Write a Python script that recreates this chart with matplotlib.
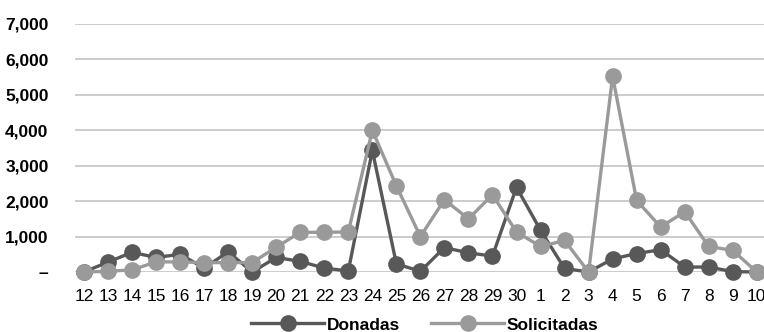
import numpy as np
import matplotlib
matplotlib.use("Agg")
import matplotlib.pyplot as plt

plt.rcParams['font.family'] = ['Liberation Sans', 'DejaVu Sans']

# dias (12 a 30, luego 1 a 10)
dias = ['12', '13', '14', '15', '16', '17', '18', '19', '20', '21', '22', '23', '24', '25',
        '26', '27', '28', '29', '30', '1', '2', '3', '4', '5', '6', '7', '8', '9', '10']
donadas = [0, 280, 555, 410, 500, 110, 570, 0, 410, 300, 110, 30, 3430, 230,
           20, 690, 540, 450, 2390, 1180, 100, 0, 370, 520, 630, 140, 140, 10, 0]
solicitadas = [0, 20, 60, 285, 285, 265, 265, 265, 700, 1120, 1120, 1130, 4000, 2430,
               1000, 2040, 1500, 2180, 1130, 720, 890, 0, 5520, 2020, 1270, 1700, 720, 610, 0]
yticks = [0, 1000, 2000, 3000, 4000, 5000, 6000, 7000]
ylabels = ['–', '1,000', '2,000', '3,000', '4,000', '5,000', '6,000', '7,000']

fig = plt.figure(figsize=(7.64, 3.32), dpi=100)
ax = fig.add_axes([75 / 764, 1 - 272 / 332, 1 - 75 / 764, (272 - 24) / 332])

x = np.arange(len(dias))
ax.plot(x, donadas, color='#585858', lw=2.4, marker='o', ms=11, clip_on=False,
        zorder=3, label='Donadas')
ax.plot(x, solicitadas, color='#9a9a9a', lw=2.4, marker='o', ms=11, clip_on=False,
        zorder=4, label='Solicitadas')

ax.set_ylim(0, 7000)
ax.set_xlim(-0.375, len(dias) - 1 + 0.3)
ax.set_yticks(yticks)
ax.set_yticklabels(ylabels, fontsize=12.5, fontweight='bold')
ax.set_xticks(x)
ax.set_xticklabels(dias, fontsize=12.5)
ax.tick_params(axis='y', length=0, pad=19)
ax.tick_params(axis='x', length=0, pad=12)
ax.yaxis.grid(True, color='#c8c8c8', lw=1.3)
ax.set_axisbelow(True)
for s in ax.spines.values():
    s.set_visible(False)

leg = fig.legend(loc='center', bbox_to_anchor=(425 / 764, 1 - 325 / 332), ncol=2,
                 frameon=False, handlelength=4.2, columnspacing=1.8, handletextpad=0.15,
                 borderaxespad=0, borderpad=0, prop={'size': 12.5, 'weight': 'bold'})

fig.savefig('out.png', dpi=100)
